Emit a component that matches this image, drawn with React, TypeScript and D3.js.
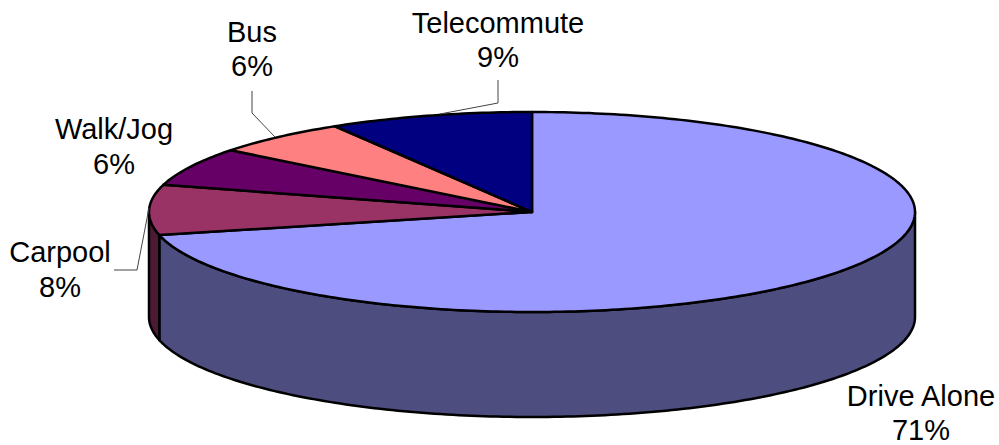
import React from "react";
import * as d3 from "d3";

const categories = ["Drive Alone", "Carpool", "Walk/Jog", "Bus", "Telecommute"];
const percentLabels = ["71%", "8%", "6%", "6%", "9%"];
const sliceValues = [71.3, 8.1, 6.2, 5.8, 8.6];
const topColors = ["#9999FF", "#993366", "#660066", "#FF8080", "#000080"];
const sideColors = ["#4D4D80", "#4D1A33", "#330033", "#804040", "#000040"];

const W = 999, H = 445;
const CX = 532, CY = 212, RX = 383, RY = 100, DEPTH = 105;

const labelPos: [number, number, number][] = [
  [921, 406, 440],
  [60, 262, 297],
  [114, 139, 174],
  [252, 42, 76],
  [498, 33, 67],
];
const leaders: [number, number][][] = [
  [],
  [[114, 270], [137, 270], [149, 208]],
  [],
  [[252, 91], [252, 113], [275, 137]],
  [[498, 80], [498, 103], [440, 114]],
];

const pie = d3.pie<number>().sort(null).startAngle(0).endAngle(2 * Math.PI);
const arcs = pie(sliceValues);
const px = (a: number) => CX + RX * Math.sin(a);
const py = (a: number, dy = 0) => CY - RY * Math.cos(a) + dy;
const line = d3.line();

function rim(a0: number, a1: number, dy = 0): [number, number][] {
  const n = Math.max(2, Math.ceil((a1 - a0) * 60));
  return d3.range(n + 1).map((i) => {
    const a = a0 + ((a1 - a0) * i) / n;
    return [px(a), py(a, dy)] as [number, number];
  });
}

export default function App() {
  const FRONT0 = Math.PI / 2, FRONT1 = (3 * Math.PI) / 2;
  return (
    <svg
      width={W}
      height={H}
      viewBox={`0 0 ${W} ${H}`}
      style={{ position: "absolute", left: 0, top: 0, background: "#fff" }}
    >
      {arcs.map((d, i) => {
        const a0 = Math.max(d.startAngle, FRONT0);
        const a1 = Math.min(d.endAngle, FRONT1);
        if (a1 <= a0) return null;
        const pts = [...rim(a0, a1), ...rim(a0, a1, DEPTH).reverse()];
        return (
          <path
            key={"side" + i}
            d={line(pts) + "Z"}
            fill={sideColors[i]}
            stroke="#000"
            strokeWidth={2.5}
            strokeLinejoin="round"
          />
        );
      })}
      {arcs.map((d, i) => {
        const pts: [number, number][] = [[CX, CY], ...rim(d.startAngle, d.endAngle)];
        return (
          <path
            key={"top" + i}
            d={line(pts) + "Z"}
            fill={topColors[i]}
            stroke="#000"
            strokeWidth={2.5}
            strokeLinejoin="round"
          />
        );
      })}
      {leaders.map((pts, i) =>
        pts.length ? (
          <path key={"lead" + i} d={line(pts) ?? ""} fill="none" stroke="#444" strokeWidth={1} />
        ) : null
      )}
      {categories.map((c, i) => (
        <text
          key={c}
          textAnchor="middle"
          fontFamily="'Liberation Sans', Arial, sans-serif"
          fontSize={29}
          fill="#000"
        >
          <tspan x={labelPos[i][0]} y={labelPos[i][1]}>{c}</tspan>
          <tspan x={labelPos[i][0]} y={labelPos[i][2]}>{percentLabels[i]}</tspan>
        </text>
      ))}
    </svg>
  );
}
